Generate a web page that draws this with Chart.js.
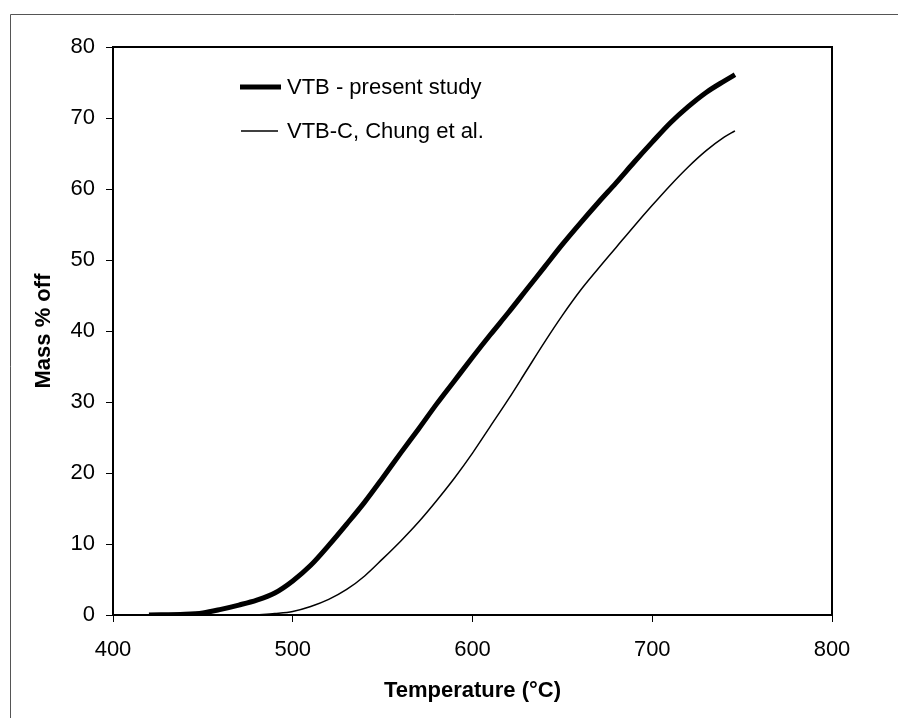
<!DOCTYPE html>
<html>
<head>
<meta charset="utf-8">
<script src="https://cdn.jsdelivr.net/npm/chart.js@4.4.1/dist/chart.umd.min.js"></script>
<style>
  html, body { margin: 0; padding: 0; background: #fff; }
  #wrap { width: 898px; height: 718px; position: relative; }
</style>
</head>
<body>
<div id="wrap"><canvas id="myChart" width="898" height="718"></canvas></div>
<script>
// temperature (°C) and mass % off
const vtbTemp = [420, 440, 450, 460, 470, 480, 490, 500, 510, 520, 530, 540, 550, 560, 570, 580, 590, 600, 610, 620, 630, 640, 650, 660, 670, 680, 690, 700, 710, 720, 730, 740, 746];
const vtbMass = [0, 0.1, 0.3, 0.8, 1.4, 2.1, 3.1, 4.8, 7.0, 9.8, 12.8, 15.9, 19.3, 22.8, 26.2, 29.7, 33.0, 36.3, 39.5, 42.6, 45.8, 49.0, 52.2, 55.2, 58.1, 60.9, 63.8, 66.6, 69.3, 71.6, 73.6, 75.2, 76.1];

const chungTemp = [480, 490, 500, 510, 520, 530, 540, 550, 560, 570, 580, 590, 600, 610, 620, 630, 640, 650, 660, 670, 680, 690, 700, 710, 720, 730, 740, 746];
const chungMass = [0, 0.2, 0.5, 1.2, 2.2, 3.6, 5.5, 7.9, 10.4, 13.1, 16.1, 19.3, 22.8, 26.6, 30.4, 34.4, 38.4, 42.2, 45.7, 48.8, 51.8, 54.8, 57.7, 60.5, 63.1, 65.4, 67.3, 68.2];

const seriesLabels = ['VTB - present study', 'VTB-C, Chung et al.'];
const xTicks = [400, 500, 600, 700, 800];
const yTicks = [0, 10, 20, 30, 40, 50, 60, 70, 80];

const toPoints = (xs, ys) => xs.map((x, i) => ({ x: x, y: ys[i] }));
const fontFamily = '"Liberation Sans", Arial, sans-serif';

// outer frame (top + left only) and the plot box top/right edges
const framePlugin = {
  id: 'frame',
  beforeDraw(chart) {
    const ctx = chart.ctx;
    ctx.save();
    ctx.fillStyle = '#fff';
    ctx.fillRect(0, 0, chart.width, chart.height);
    ctx.strokeStyle = '#555';
    ctx.lineWidth = 1;
    ctx.beginPath();
    ctx.moveTo(10.5, chart.height);
    ctx.lineTo(10.5, 14.5);
    ctx.lineTo(chart.width, 14.5);
    ctx.stroke();
    ctx.restore();
  },
  afterDatasetsDraw(chart) {
    const { ctx, chartArea } = chart;
    ctx.save();
    ctx.strokeStyle = '#000';
    ctx.lineWidth = 2;
    ctx.beginPath();
    ctx.moveTo(chartArea.left, chartArea.top);
    ctx.lineTo(chartArea.right, chartArea.top);
    ctx.lineTo(chartArea.right, chartArea.bottom);
    ctx.stroke();
    ctx.restore();
  }
};

// legend drawn inside the plot, like the original
const legendPlugin = {
  id: 'innerLegend',
  afterDraw(chart) {
    const ctx = chart.ctx;
    const rows = [
      { y: 87, x0: 240, x1: 281 },
      { y: 131, x0: 241, x1: 278 }
    ];
    ctx.save();
    ctx.font = '22px ' + fontFamily;
    ctx.textBaseline = 'middle';
    ctx.fillStyle = '#000';
    chart.data.datasets.forEach((ds, i) => {
      const r = rows[i];
      ctx.strokeStyle = ds.borderColor;
      ctx.lineWidth = ds.borderWidth;
      ctx.beginPath();
      ctx.moveTo(r.x0, r.y);
      ctx.lineTo(r.x1, r.y);
      ctx.stroke();
      ctx.fillText(ds.label, 287, r.y + 1);
    });
    ctx.restore();
  }
};

const ctx = document.getElementById('myChart').getContext('2d');
new Chart(ctx, {
  type: 'line',
  data: {
    datasets: [
      {
        label: seriesLabels[0],
        data: toPoints(vtbTemp, vtbMass),
        borderColor: '#000',
        borderWidth: 5,
        pointRadius: 0,
        cubicInterpolationMode: 'monotone'
      },
      {
        label: seriesLabels[1],
        data: toPoints(chungTemp, chungMass),
        borderColor: '#000',
        borderWidth: 1.5,
        pointRadius: 0,
        cubicInterpolationMode: 'monotone'
      }
    ]
  },
  options: {
    responsive: false,
    animation: false,
    layout: { padding: { left: 0, right: 66, top: 47, bottom: 0 } },
    plugins: {
      legend: { display: false },
      tooltip: { enabled: false }
    },
    scales: {
      x: {
        type: 'linear',
        min: 400,
        max: 800,
        afterFit: (scale) => { scale.height = 103; },
        afterBuildTicks: (scale) => { scale.ticks = xTicks.map(v => ({ value: v })); },
        grid: { drawOnChartArea: false, drawTicks: true, tickLength: 7, color: '#000', lineWidth: 1 },
        border: { display: true, color: '#000', width: 2 },
        ticks: {
          color: '#000',
          padding: 15,
          maxRotation: 0,
          font: { family: fontFamily, size: 22 }
        },
        title: {
          display: true,
          text: 'Temperature (°C)',
          color: '#000',
          padding: { top: 0, bottom: 14 },
          font: { family: fontFamily, size: 22, weight: 'bold' }
        }
      },
      y: {
        type: 'linear',
        min: 0,
        max: 80,
        afterFit: (scale) => { scale.width = 113; },
        afterBuildTicks: (scale) => { scale.ticks = yTicks.map(v => ({ value: v })); },
        grid: { drawOnChartArea: false, drawTicks: true, tickLength: 7, color: '#000', lineWidth: 1 },
        border: { display: true, color: '#000', width: 2 },
        ticks: {
          color: '#000',
          padding: 11,
          font: { family: fontFamily, size: 22 }
        },
        title: {
          display: true,
          text: 'Mass % off',
          color: '#000',
          padding: { top: 31, bottom: 0 },
          font: { family: fontFamily, size: 22, weight: 'bold' }
        }
      }
    }
  },
  plugins: [framePlugin, legendPlugin]
});
</script>
</body>
</html>
